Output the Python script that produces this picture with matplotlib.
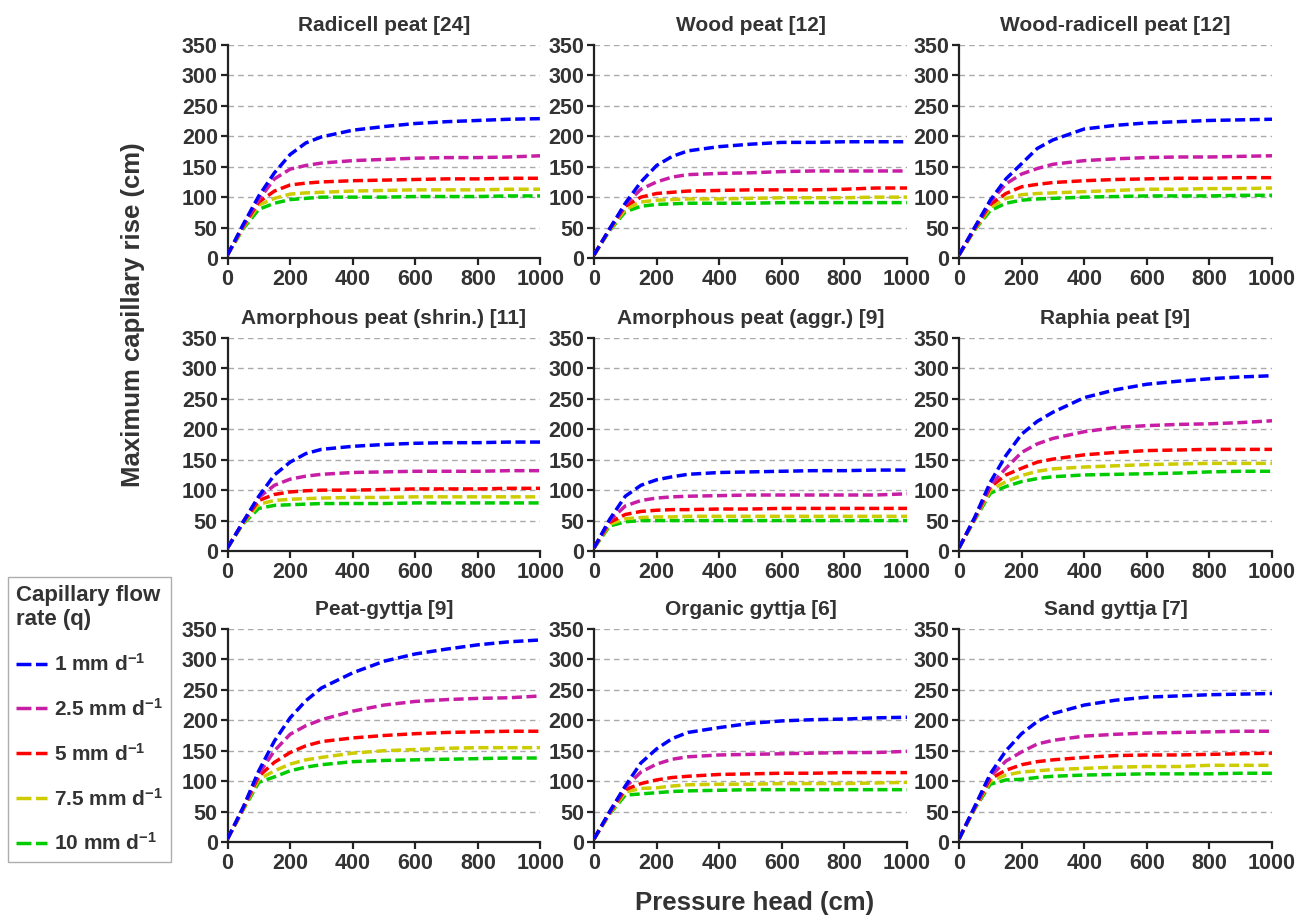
import numpy as np
import matplotlib.pyplot as plt
from matplotlib.lines import Line2D

plt.rcParams['font.family'] = ['Liberation Sans', 'DejaVu Sans']
plt.rcParams['font.weight'] = 'bold'
plt.rcParams['mathtext.fontset'] = 'custom'
plt.rcParams['mathtext.rm'] = 'Liberation Sans:bold'
plt.rcParams['mathtext.bf'] = 'Liberation Sans:bold'
plt.rcParams['mathtext.default'] = 'bf'

# pressure head (cm)
head = [0, 50, 100, 150, 200, 250, 300, 400, 500, 600, 700, 800, 900, 1000]

# maximum capillary rise (cm), one row per flow rate: 1, 2.5, 5, 7.5, 10 mm/d
radicell_peat = [
    [5, 55, 102, 140, 170, 189, 199, 210, 216, 221, 224, 226, 228, 229],
    [5, 53, 96, 130, 146, 152, 156, 160, 162, 164, 165, 165, 166, 168],
    [5, 52, 92, 110, 120, 123, 125, 127, 128, 129, 130, 130, 131, 131],
    [5, 50, 87, 98, 105, 107, 108, 110, 111, 112, 112, 112, 113, 113],
    [5, 48, 80, 90, 96, 98, 100, 100, 100, 101, 101, 101, 102, 102],
]
wood_peat = [
    [5, 48, 90, 125, 152, 167, 176, 183, 187, 190, 190, 191, 191, 191],
    [5, 48, 88, 113, 125, 133, 137, 139, 140, 142, 143, 143, 143, 143],
    [5, 47, 85, 100, 106, 108, 110, 111, 112, 112, 112, 113, 115, 115],
    [5, 46, 80, 92, 95, 96, 97, 97, 98, 99, 99, 99, 100, 100],
    [5, 45, 76, 85, 88, 89, 90, 90, 90, 91, 91, 91, 91, 91],
]
wood_radicell_peat = [
    [5, 50, 95, 130, 155, 180, 194, 212, 218, 222, 224, 226, 227, 228],
    [5, 50, 92, 122, 138, 147, 154, 160, 163, 165, 166, 166, 167, 168],
    [5, 48, 88, 106, 117, 121, 124, 127, 129, 130, 131, 131, 132, 132],
    [5, 47, 83, 98, 104, 106, 107, 109, 111, 113, 113, 114, 114, 115],
    [5, 46, 78, 90, 95, 97, 98, 100, 101, 102, 102, 102, 103, 103],
]
amorphous_shrin = [
    [5, 48, 90, 125, 146, 160, 167, 172, 175, 177, 178, 178, 179, 179],
    [5, 48, 88, 108, 118, 123, 126, 129, 130, 131, 131, 131, 132, 132],
    [5, 47, 83, 93, 97, 99, 100, 100, 101, 102, 102, 102, 103, 103],
    [5, 46, 77, 83, 85, 86, 87, 88, 88, 89, 89, 89, 89, 89],
    [5, 45, 70, 75, 76, 77, 78, 78, 78, 79, 79, 79, 79, 79],
]
amorphous_aggr = [
    [5, 52, 90, 108, 117, 122, 126, 129, 130, 131, 132, 132, 133, 133],
    [5, 50, 74, 83, 87, 89, 90, 91, 92, 92, 92, 92, 92, 94],
    [5, 47, 60, 65, 67, 68, 68, 69, 69, 70, 70, 70, 70, 70],
    [5, 44, 53, 55, 56, 56, 57, 57, 57, 57, 57, 57, 57, 57],
    [5, 41, 48, 50, 50, 50, 50, 50, 50, 50, 50, 50, 50, 50],
]
raphia_peat = [
    [5, 55, 113, 157, 192, 213, 228, 252, 265, 274, 279, 283, 286, 288],
    [5, 54, 108, 136, 162, 176, 185, 196, 203, 206, 208, 209, 211, 214],
    [5, 53, 105, 125, 136, 146, 151, 158, 162, 165, 166, 167, 167, 167],
    [5, 52, 100, 114, 124, 131, 135, 138, 140, 142, 143, 144, 144, 144],
    [5, 51, 95, 106, 114, 119, 122, 125, 126, 127, 128, 130, 131, 131],
]
peat_gyttja = [
    [5, 57, 117, 166, 204, 232, 253, 278, 297, 309, 317, 324, 329, 332],
    [5, 56, 112, 150, 177, 191, 201, 215, 225, 231, 234, 236, 237, 240],
    [5, 55, 108, 131, 147, 158, 165, 171, 175, 178, 180, 181, 182, 182],
    [5, 54, 103, 117, 128, 135, 139, 146, 150, 152, 154, 155, 155, 155],
    [5, 53, 98, 107, 117, 123, 127, 132, 134, 135, 136, 137, 138, 138],
]
organic_gyttja = [
    [5, 50, 92, 130, 153, 170, 180, 188, 195, 199, 201, 202, 204, 205],
    [5, 49, 90, 115, 128, 136, 140, 143, 144, 145, 146, 147, 147, 149],
    [5, 48, 86, 96, 102, 106, 108, 111, 112, 113, 113, 114, 114, 114],
    [5, 47, 82, 88, 89, 92, 94, 95, 95, 96, 96, 96, 97, 98],
    [5, 46, 77, 79, 81, 83, 84, 85, 86, 86, 86, 86, 86, 86],
]
sand_gyttja = [
    [5, 58, 112, 150, 178, 198, 211, 225, 233, 238, 240, 242, 243, 244],
    [5, 57, 108, 133, 148, 161, 167, 174, 177, 179, 180, 181, 182, 182],
    [5, 56, 104, 118, 127, 132, 135, 139, 142, 143, 143, 144, 145, 146],
    [5, 55, 100, 110, 115, 117, 119, 121, 123, 124, 124, 126, 126, 126],
    [5, 54, 95, 102, 103, 106, 108, 110, 111, 112, 112, 112, 113, 113],
]

panels = [radicell_peat, wood_peat, wood_radicell_peat,
          amorphous_shrin, amorphous_aggr, raphia_peat,
          peat_gyttja, organic_gyttja, sand_gyttja]
titles = ['Radicell peat [24]', 'Wood peat [12]', 'Wood-radicell peat [12]',
          'Amorphous peat (shrin.) [11]', 'Amorphous peat (aggr.) [9]', 'Raphia peat [9]',
          'Peat-gyttja [9]', 'Organic gyttja [6]', 'Sand gyttja [7]']
q_labels = ['1 mm d$^{-1}$', '2.5 mm d$^{-1}$', '5 mm d$^{-1}$',
            '7.5 mm d$^{-1}$', '10 mm d$^{-1}$']
colors = ['#0000ff', '#c81ea5', '#ff0000', '#cccc00', '#00cc00']

W, H = 1308, 918
fig = plt.figure(figsize=(W / 100, H / 100), dpi=100)

col_left = [227.5, 594, 959]
row_top = [45, 338, 629]
ax_w, ax_h = 313, 213
txt = '#333333'

for i, data in enumerate(panels):
    r, c = divmod(i, 3)
    ax = fig.add_axes([col_left[c] / W, 1 - (row_top[r] + ax_h) / H, ax_w / W, ax_h / H])
    for k in range(4, -1, -1):
        ax.plot(head, data[k], color=colors[k], lw=2.5, dashes=(2.9, 1.3), zorder=3 + (5 - k))
    ax.set_xlim(0, 1000)
    ax.set_ylim(0, 350)
    ax.set_xticks(np.arange(0, 1001, 200))
    ax.set_yticks(np.arange(0, 351, 50))
    ax.yaxis.grid(True, color='#aaaaaa', lw=1.0, dashes=(4, 3))
    ax.set_axisbelow(True)
    for s in ['top', 'right']:
        ax.spines[s].set_visible(False)
    for s in ['left', 'bottom']:
        ax.spines[s].set_linewidth(1.6)
        ax.spines[s].set_color('#222222')
    ax.tick_params(direction='out', length=5, width=1.6, color='#222222',
                   labelsize=15.5, labelcolor=txt, pad=2)
    ax.tick_params(axis='x', pad=3)
    ax.set_title(titles[i], fontsize=15, fontweight='bold', color=txt, pad=10)

fig.text(133 / W, 1 - 315 / H, 'Maximum capillary rise (cm)', rotation=90,
         ha='center', va='center', fontsize=18.5, fontweight='bold', color=txt)
fig.text(755 / W, 1 - 903 / H, 'Pressure head (cm)', ha='center', va='center',
         fontsize=18.5, fontweight='bold', color=txt)

handles = [Line2D([], [], color=cl, lw=2.5, dashes=(4.3, 1.3)) for cl in colors]
leg = fig.legend(handles, q_labels, title='Capillary flow\nrate (q)', loc='upper left',
                 bbox_to_anchor=(8 / W, 1 - 577 / H), borderaxespad=0,
                 frameon=True, fancybox=False, edgecolor='#999999',
                 fontsize=15, title_fontsize=16, handlelength=1.5,
                 handletextpad=0.32, labelspacing=1.1, borderpad=0.38,
                 alignment='left')
leg.get_frame().set_linewidth(1.0)
for t in leg.get_texts():
    t.set_color(txt)
leg.get_title().set_color(txt)
leg.get_title().set_fontweight('bold')

fig.savefig('out.png', dpi=100)
